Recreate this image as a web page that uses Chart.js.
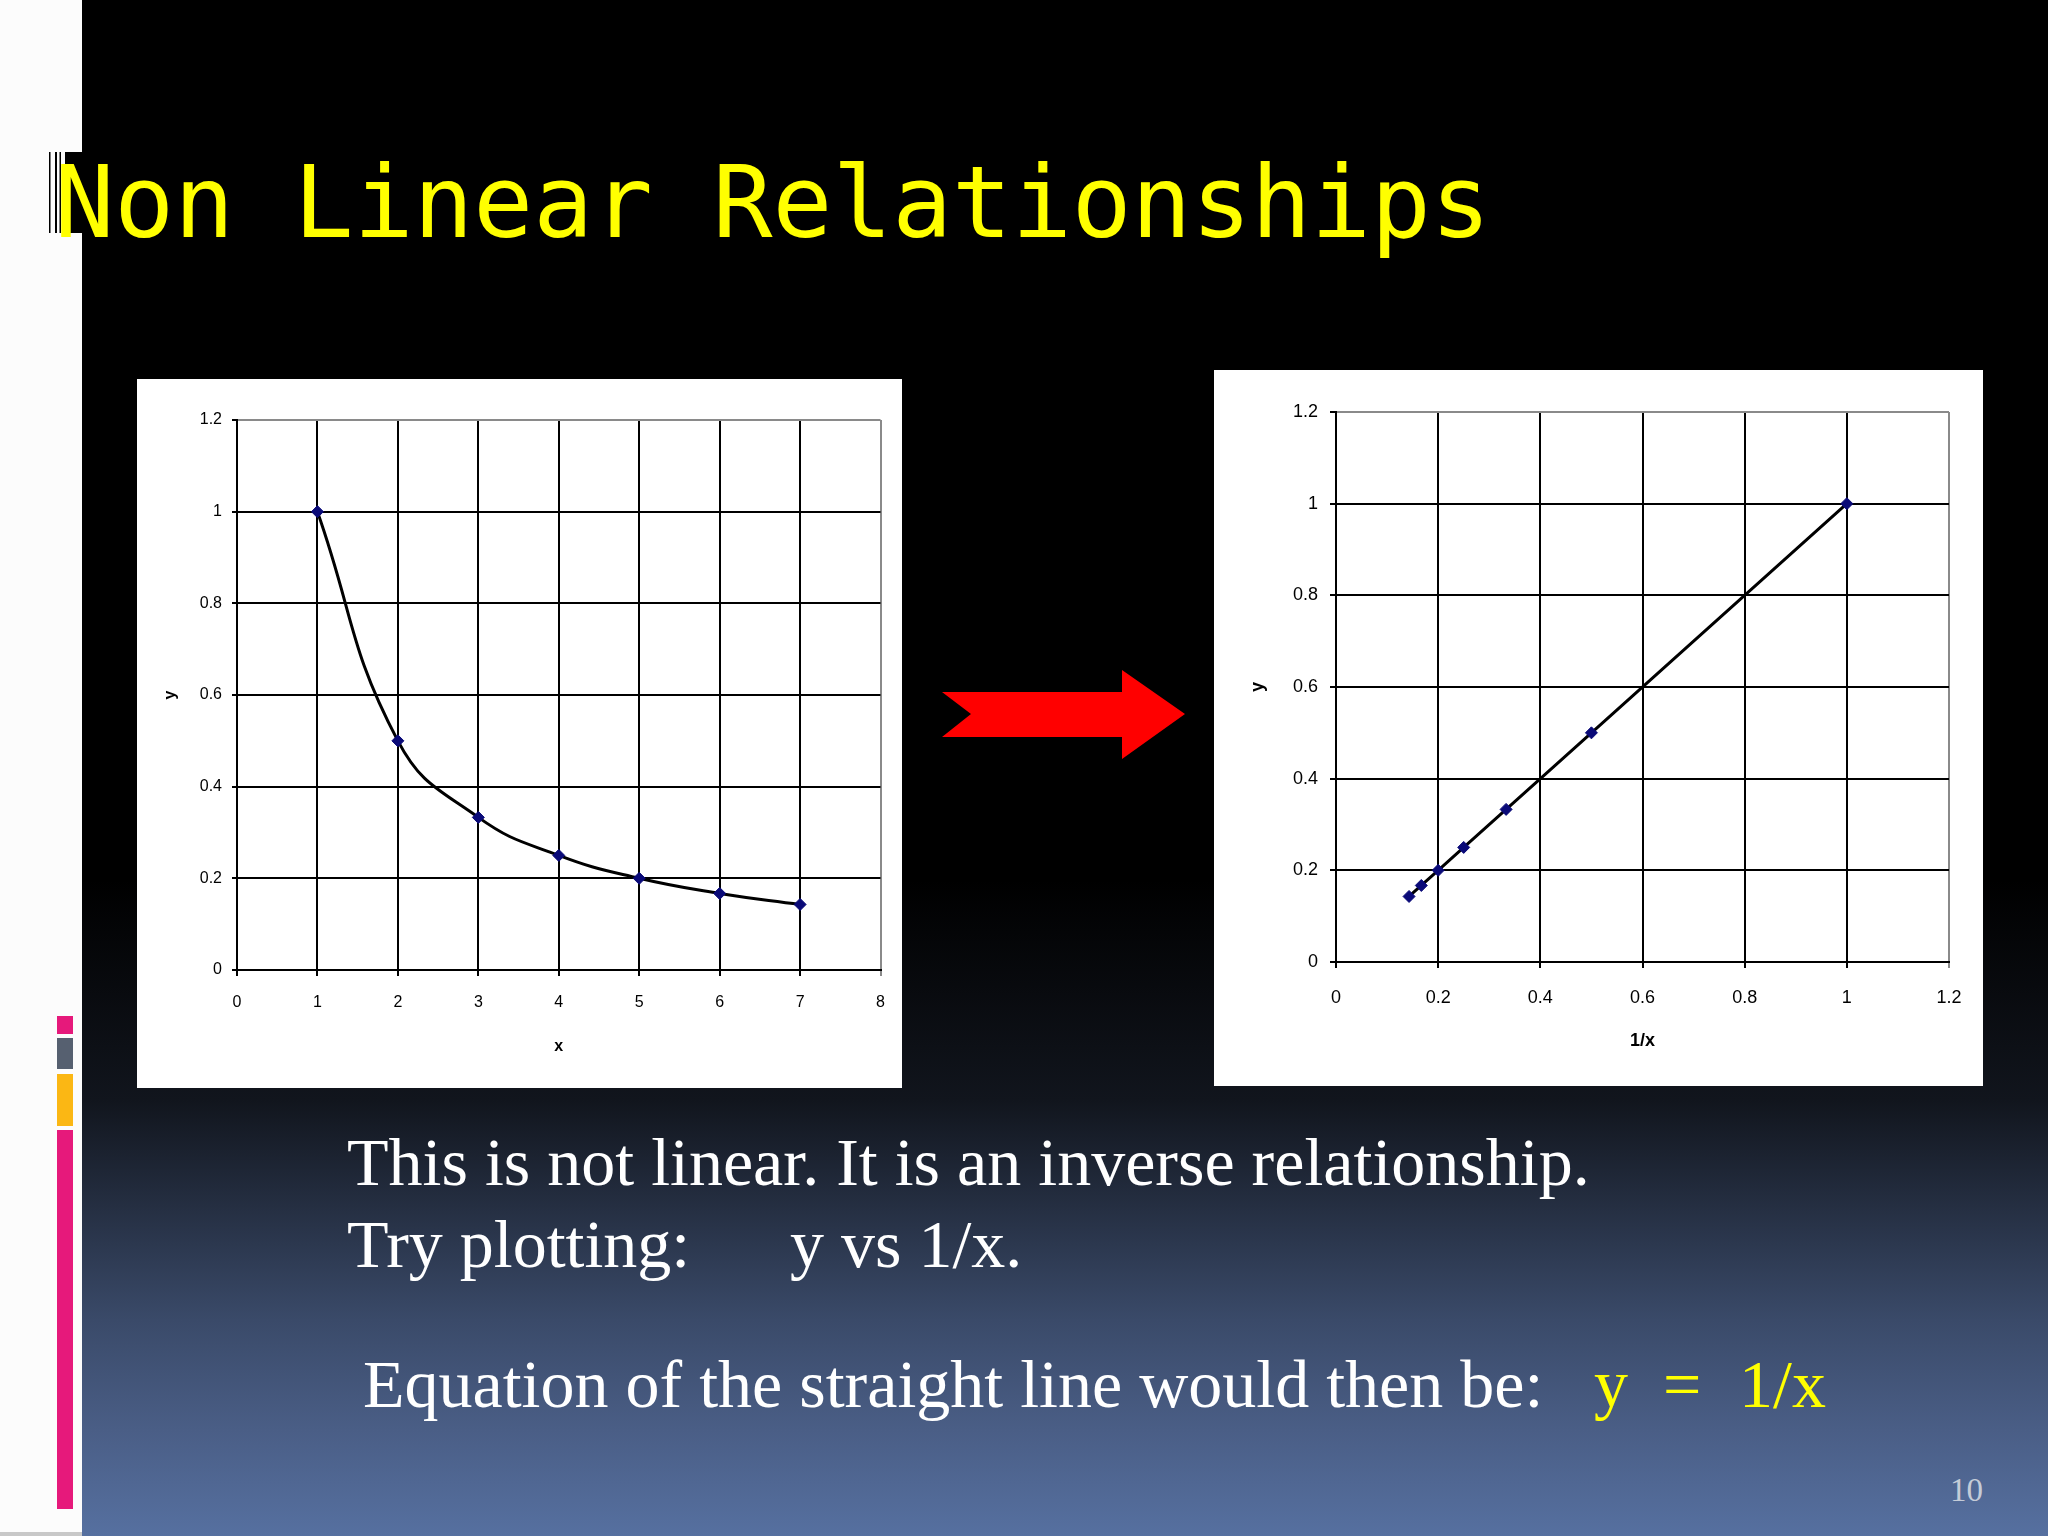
<!DOCTYPE html>
<html>
<head>
<meta charset="utf-8">
<script src="https://cdn.jsdelivr.net/npm/chart.js@4"></script>
<style>
html, body { margin:0; padding:0; width:2048px; height:1536px; overflow:hidden; }
body { position:relative;
  background: linear-gradient(to bottom, #000 0px, #000 880px, #11151d 1100px, #3a4a69 1320px, #4a5e86 1430px, #5670a0 1536px); }
#deco { position:absolute; left:0; top:0; width:2048px; height:1536px; }
canvas.chart { position:absolute; background:#fff; }
</style>
</head>
<body>
<svg id="deco" width="2048" height="1536" xmlns="http://www.w3.org/2000/svg">
  <rect x="0" y="0" width="82" height="1536" fill="#fcfcfc"/>
  <rect x="0" y="1532" width="82" height="4" fill="#c8c8c8"/>
  <!-- title bars -->
  <rect x="49" y="152" width="1.5" height="81" fill="#000"/>
  <rect x="55" y="152" width="2" height="81" fill="#000"/>
  <rect x="59.5" y="152" width="1.5" height="81" fill="#000"/>
  <rect x="65" y="152" width="17" height="81" fill="#000"/>
  <!-- side stripes -->
  <rect x="57" y="1016" width="16" height="18" fill="#e6197b"/>
  <rect x="57" y="1038" width="16" height="31" fill="#566070"/>
  <rect x="57" y="1074" width="16" height="52" fill="#fbb714"/>
  <rect x="57" y="1130" width="16" height="379" fill="#e6197b"/>
  <text x="54.5" y="237" font-family="DejaVu Sans Mono" font-size="99.4" fill="#ffff00">Non Linear Relationships</text>
  <!-- arrow -->
  <polygon points="942,692 1122,692 1122,670 1185,714 1122,759 1122,737 942,737 971,714" fill="#ff0000"/>
  <g font-family="Liberation Serif" font-size="68" fill="#ffffff">
    <text x="347" y="1185">This is not linear. It is an inverse relationship.</text>
    <text x="347" y="1267">Try plotting:</text>
    <text x="790" y="1267">y vs 1/x.</text>
    <text x="363" y="1407">Equation of the straight line would then be:</text>
    <text x="1594" y="1407" fill="#ffff00">y</text>
    <text x="1663" y="1407" fill="#ffff00">=</text>
    <text x="1739" y="1407" fill="#ffff00">1/x</text>
  </g>
  <text x="1950" y="1501" font-family="Liberation Serif" font-size="33" fill="#c5ccd8">10</text>
</svg>
<canvas id="leftChart" class="chart" width="765" height="709" style="left:137px;top:379px;width:765px;height:709px;"></canvas>
<canvas id="rightChart" class="chart" width="769" height="716" style="left:1214px;top:370px;width:769px;height:716px;"></canvas>
<script>
// ---- data ----
const xValues = [1, 2, 3, 4, 5, 6, 7];
const yValues = [1, 0.5, 0.333, 0.25, 0.2, 0.167, 0.143];
const invXValues = [1, 0.5, 0.333, 0.25, 0.2, 0.167, 0.143];
const leftXRange = [0, 8];
const leftXStep = 1;
const rightXRange = [0, 1.2];
const rightXStep = 0.2;
const yRange = [0, 1.2];
const yStep = 0.2;
const leftXTitle = 'x';
const rightXTitle = '1/x';
const yTitle = 'y';

function toPoints(xs, ys) { return xs.map((x, i) => ({ x: x, y: ys[i] })); }
function fmt(v) { return String(Number(Number(v).toFixed(3))); }

function axis(range, step, title, o) {
  return {
    type: 'linear',
    position: o.position,
    min: range[0], max: range[1],
    afterFit: o.afterFit,
    ticks: { stepSize: step, color: '#000', padding: o.tickPad, callback: fmt,
      font: { family: 'Liberation Sans, Arial, sans-serif', size: o.fontSize } },
    grid: {
      color: (c) => (c.tick && Math.abs(c.tick.value - range[1]) < 1e-9) ? '#8a8a8a' : '#000',
      tickColor: (c) => (c.tick && Math.abs(c.tick.value - range[1]) < 1e-9 && o.position === 'bottom') ? '#8a8a8a' : '#000',
      lineWidth: 2, tickLength: o.tickLen, drawTicks: true
    },
    border: { display: true, color: '#000', width: 2 },
    title: { display: true, text: title, color: '#000',
      font: { family: 'Liberation Sans, Arial, sans-serif', size: o.fontSize, weight: 'bold' },
      padding: o.titlePad }
  };
}

function makeChart(id, xs, ys, cfg) {
  return new Chart(document.getElementById(id), {
    type: 'scatter',
    data: { datasets: [{
      data: toPoints(xs, ys),
      showLine: true,
      borderColor: '#000',
      borderWidth: 3,
      tension: cfg.smooth ? 0.45 : 0,
      pointStyle: 'rectRot',
      pointRadius: 6,
      pointBackgroundColor: '#0a0a78',
      pointBorderColor: '#0a0a78',
      pointBorderWidth: 1
    }]},
    options: {
      responsive: false,
      devicePixelRatio: 1,
      animation: false,
      events: [],
      layout: { padding: cfg.padding },
      plugins: { legend: { display: false }, tooltip: { enabled: false } },
      scales: {
        x: axis(cfg.xRange, cfg.xStep, cfg.xTitle, {
          position: 'bottom', fontSize: cfg.fontSize, tickPad: cfg.xTickPad, tickLen: 6,
          titlePad: { top: 0, bottom: cfg.xTitlePad },
          afterFit: (s) => { s.height = cfg.xAxisH; } }),
        y: axis(yRange, yStep, yTitle, {
          position: 'left', fontSize: cfg.fontSize, tickPad: cfg.yTickPad, tickLen: cfg.yTickLen,
          titlePad: { top: cfg.yTitlePad, bottom: 0 },
          afterFit: (s) => { s.width = cfg.yAxisW; } })
      }
    }
  });
}

makeChart('leftChart', xValues, yValues, {
  smooth: true, xRange: leftXRange, xStep: leftXStep, xTitle: leftXTitle,
  padding: { top: 41, right: 21, bottom: 0, left: 0 },
  xAxisH: 118, yAxisW: 100, fontSize: 16,
  xTickPad: 17, yTickPad: 10, yTickLen: 5, xTitlePad: 32, yTitlePad: 24
});

makeChart('rightChart', invXValues, yValues, {
  smooth: false, xRange: rightXRange, xStep: rightXStep, xTitle: rightXTitle,
  padding: { top: 42, right: 34, bottom: 0, left: 0 },
  xAxisH: 124, yAxisW: 122, fontSize: 18,
  xTickPad: 19, yTickPad: 12, yTickLen: 6, xTitlePad: 34, yTitlePad: 33
});
</script>
</body>
</html>
